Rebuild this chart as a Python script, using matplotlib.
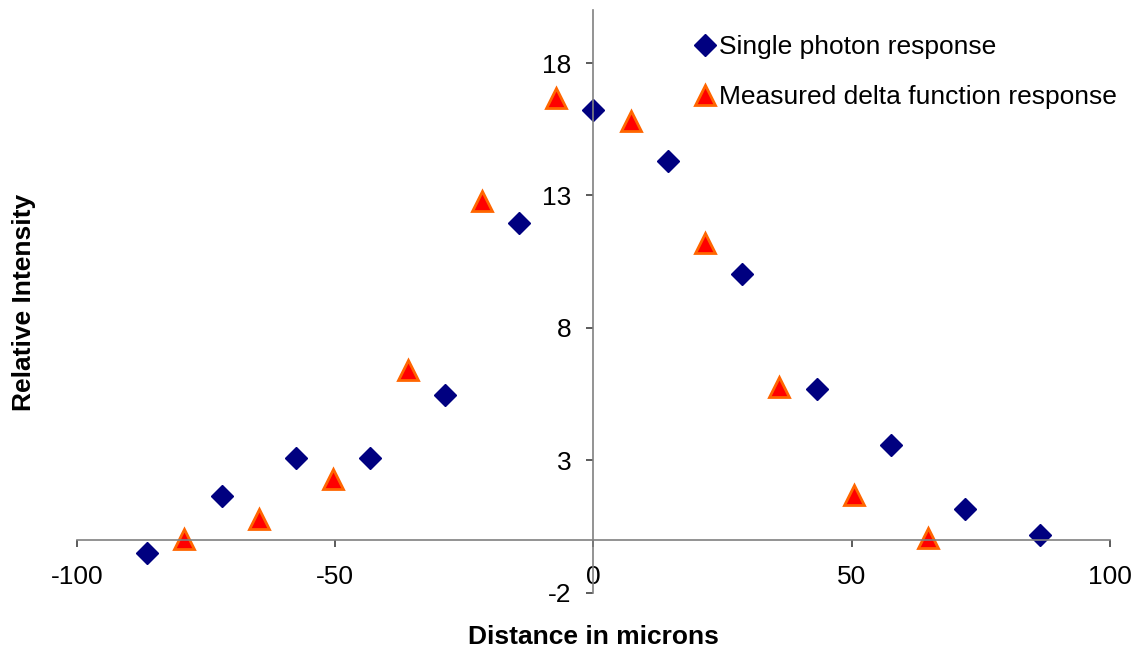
import numpy as np
import matplotlib.pyplot as plt

plt.rcParams['font.family'] = ['Liberation Sans', 'DejaVu Sans']
plt.rcParams['axes.unicode_minus'] = False

# single photon response (blue diamonds)
x_single = [-86.4, -72.0, -57.6, -43.2, -28.8, -14.4, 0.0, 14.4, 28.8, 43.2, 57.6, 72.0, 86.4]
y_single = [-0.5, 1.65, 3.08, 3.08, 5.49, 11.95, 16.24, 14.32, 10.04, 5.71, 3.57, 1.17, 0.19]

# measured delta function response (orange triangles)
x_delta = [-79.2, -64.8, -50.4, -36.0, -21.6, -7.2, 7.2, 21.6, 36.0, 50.4, 64.8]
y_delta = [0.05, 0.8, 2.32, 6.42, 12.8, 16.68, 15.82, 11.2, 5.78, 1.68, 0.07]

x_ticks = [-100, -50, 0, 50, 100]
y_ticks = [-2, 3, 8, 13, 18]


def main():
    fig = plt.figure(figsize=(11.41, 6.54), dpi=100)
    ax = fig.add_axes([0.0675, 0.0933, 0.9053, 0.8914])

    l1, = ax.plot(x_single, y_single, linestyle="none", marker="D", markersize=11,
                  color="#000080", markeredgecolor="#000080", label="Single photon response")
    l2, = ax.plot(x_delta, y_delta, linestyle="none", marker="^", markersize=14,
                  markerfacecolor="#FF0000", markeredgecolor="#FF6600", markeredgewidth=2,
                  label="Measured delta function response")

    ax.set_xlim(-100, 100)
    ax.set_ylim(-2, 20)
    ax.set_xticks(x_ticks)
    ax.set_yticks(y_ticks)

    ax.spines["left"].set_position(("data", 0))
    ax.spines["bottom"].set_position(("data", 0))
    ax.spines["top"].set_visible(False)
    ax.spines["right"].set_visible(False)
    for s in ["left", "bottom"]:
        ax.spines[s].set_color("#808080")
        ax.spines[s].set_linewidth(1.2)

    ax.tick_params(axis="x", direction="out", length=5, width=1.2, color="#404040",
                   labelsize=19, pad=13)
    ax.tick_params(axis="y", direction="out", length=5, width=1.2, color="#404040",
                   labelsize=19, pad=11)

    fig.text(0.5205, 0.026, "Distance in microns", ha="center", va="center",
             fontsize=19, fontweight="bold")
    fig.text(0.021, 0.538, "Relative Intensity", ha="center", va="center",
             fontsize=19, fontweight="bold", rotation=90)

    fig.legend(handles=[l1, l2], loc="upper left", bbox_to_anchor=(0.602, 0.963),
               frameon=False, fontsize=19, handlelength=0.6, handletextpad=0.2,
               labelspacing=1.0, borderaxespad=0)

    fig.savefig("out.png", dpi=100)


if __name__ == "__main__":
    main()
